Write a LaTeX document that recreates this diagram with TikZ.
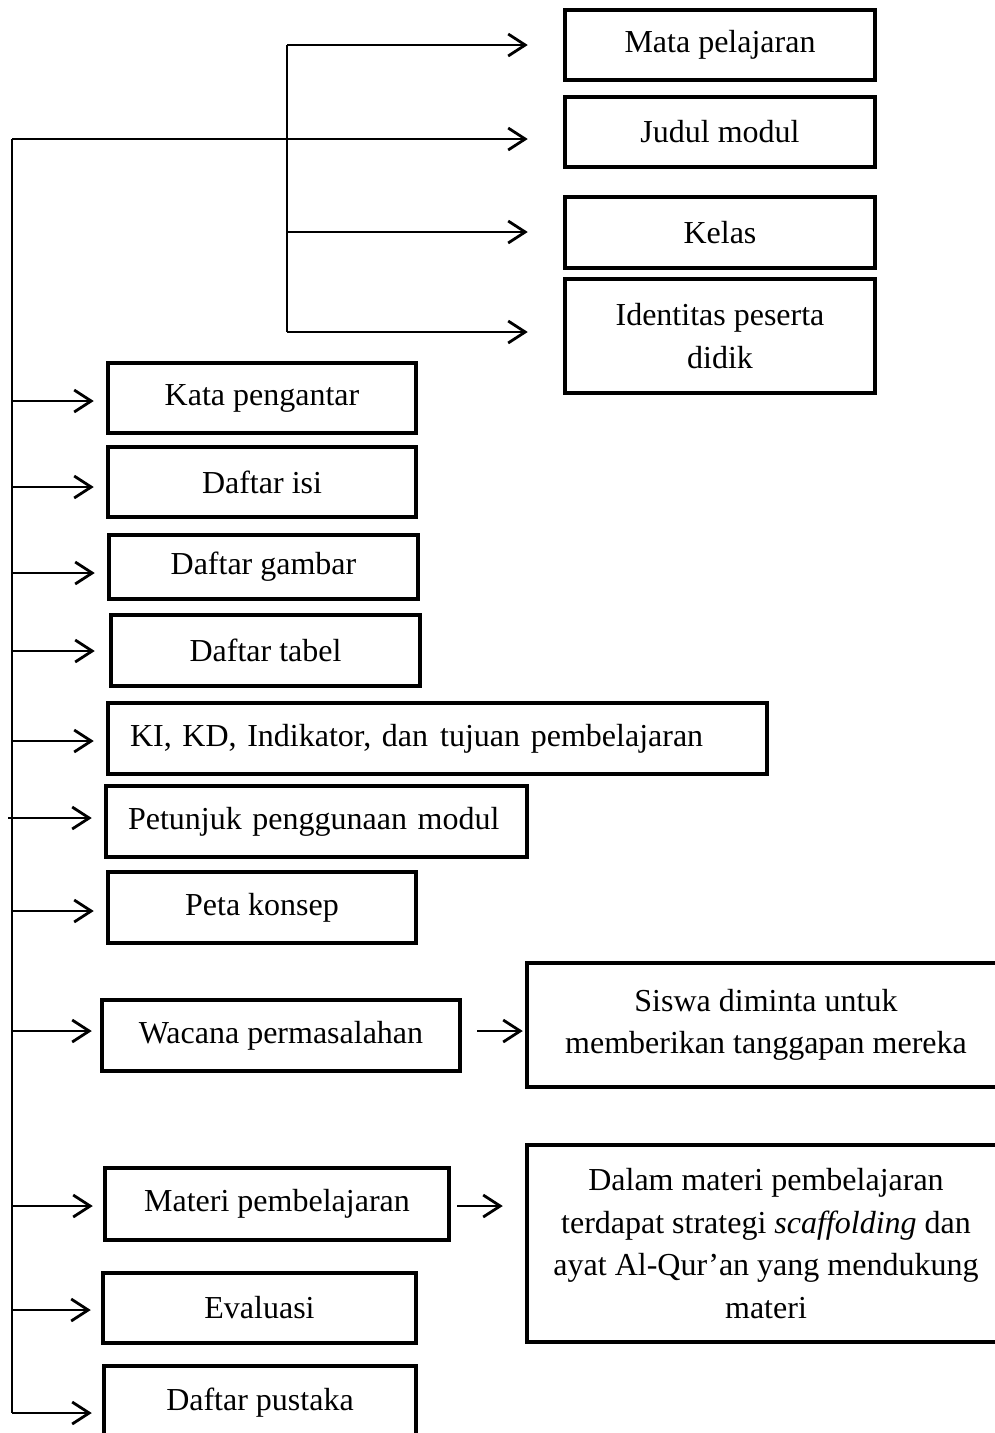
\documentclass[tikz,border=0pt]{standalone}
\usepackage{fontspec}
\setmainfont{Liberation Serif}
\usetikzlibrary{arrows.meta}
\begin{document}
\begin{tikzpicture}[x=1pt,y=-1pt,
  box/.style={draw, line width=4.5pt, inner sep=0pt, align=center,
    font=\fontsize{32}{42.5}\selectfont},
  lbox/.style={box, align=left},
  ln/.style={line width=2.6pt},
  arr/.style={ln, -{Straight Barb[length=17pt,width=22pt,line width=2.8pt]}}]
\useasboundingbox (0,0) rectangle (995,1433);
\clip (0,0) rectangle (995,1433);
\fill[white] (0,0) rectangle (995,1433);
% top group boxes
\node[box, minimum width=310, minimum height=70] (mp) at (720,45) {Mata pelajaran};
\node[box, minimum width=310, minimum height=70] (jm) at (720,132) {Judul modul};
\node[box, minimum width=310, minimum height=71] (kl) at (720,232.5) {Kelas};
\node[box, minimum width=310, minimum height=114] (ip) at (720,336) {Identitas peserta\\didik};
% left boxes
\node[box, minimum width=308, minimum height=70] (kp) at (262,398) {Kata pengantar};
\node[box, minimum width=308, minimum height=70] (di) at (262,482) {Daftar isi};
\node[box, minimum width=309, minimum height=64] (dg) at (263.5,567) {Daftar gambar};
\node[box, minimum width=309, minimum height=71] (dt) at (265.5,650.5) {Daftar tabel};
\node[lbox, minimum width=659, minimum height=71, text width=615] (ki) at (437.5,738.5) {KI, KD, Indikator, dan\hspace{12pt}tujuan pembelajaran};
\node[lbox, minimum width=421, minimum height=71, text width=377] (pt) at (316.5,821.5) {Petunjuk penggunaan modul};
\node[box, minimum width=308, minimum height=71] (pk) at (262,907.5) {Peta konsep};
\node[box, minimum width=358, minimum height=71] (wp) at (281,1035.5) {Wacana permasalahan};
\node[box, minimum width=478, minimum height=124] (sw) at (766,1025) {Siswa diminta untuk\\memberikan tanggapan mereka};
\node[box, minimum width=344, minimum height=72] (mt) at (277,1204) {Materi pembelajaran};
\node[box, minimum width=478, minimum height=197] (dm) at (766,1243.5) {Dalam materi pembelajaran\\terdapat strategi \textit{scaffolding} dan\\ayat Al-Qur’an yang mendukung\\materi};
\node[box, minimum width=313, minimum height=70] (ev) at (259.5,1308) {Evaluasi};
\node[box, minimum width=312, minimum height=74] (dp) at (260,1403) {Daftar pustaka};
% trunk and branch
\coordinate (tt) at (12,139);
\coordinate (tb) at (12,1413);
\coordinate (b1) at (287,45);
\coordinate (b2) at (287,139);
\coordinate (b3) at (287,232);
\coordinate (b4) at (287,332);
\draw[ln] (tt) -- (tb);
\draw[ln] (tt) -- (b2);
\draw[ln] (b1) -- (b4);
\draw[arr] (b1) -- ([xshift=-35pt]b1 -| mp.west);
\draw[arr] (b2) -- ([xshift=-35pt]b2 -| jm.west);
\draw[arr] (b3) -- ([xshift=-35pt]b3 -| kl.west);
\draw[arr] (b4) -- ([xshift=-35pt]b4 -| ip.west);
% left arrows
\coordinate (l1) at (12,401);
\coordinate (l2) at (12,487);
\coordinate (l3) at (12,573);
\coordinate (l4) at (12,651);
\coordinate (l5) at (12,741);
\coordinate (l6) at (8,818);
\coordinate (l7) at (12,911);
\coordinate (l8) at (12,1031);
\coordinate (l9) at (12,1206);
\coordinate (l10) at (12,1310);
\coordinate (l11) at (12,1413);
\draw[arr] (l1) -- ([xshift=-12pt]l1 -| kp.west);
\draw[arr] (l2) -- ([xshift=-12pt]l2 -| di.west);
\draw[arr] (l3) -- ([xshift=-12pt]l3 -| dg.west);
\draw[arr] (l4) -- ([xshift=-14pt]l4 -| dt.west);
\draw[arr] (l5) -- ([xshift=-12pt]l5 -| ki.west);
\draw[arr] (l6) -- ([xshift=-12pt]l6 -| pt.west);
\draw[arr] (l7) -- ([xshift=-12pt]l7 -| pk.west);
\draw[arr] (l8) -- ([xshift=-8pt]l8 -| wp.west);
\draw[arr] (l9) -- ([xshift=-10pt]l9 -| mt.west);
\draw[arr] (l10) -- ([xshift=-10pt]l10 -| ev.west);
\draw[arr] (l11) -- ([xshift=-10pt]l11 -| dp.west);
% side arrows
\coordinate (w1) at (477,1031);
\coordinate (m1) at (457,1206);
\draw[arr] (w1) -- ([xshift=-2pt]w1 -| sw.west);
\draw[arr] (m1) -- ([xshift=-22pt]m1 -| dm.west);
\end{tikzpicture}
\end{document}
